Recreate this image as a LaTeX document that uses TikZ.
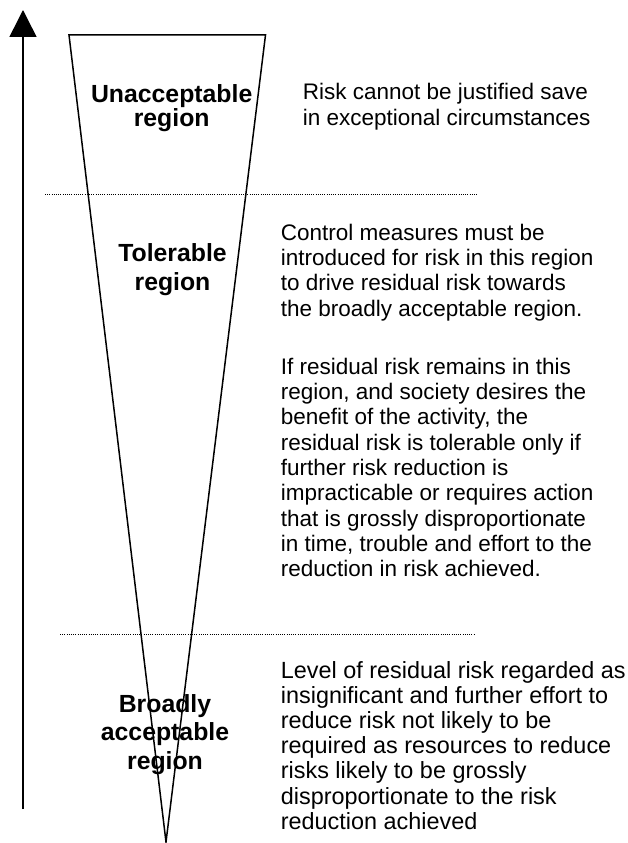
\documentclass[tikz,border=0pt]{standalone}
\usepackage{fontspec}
\setmainfont{Liberation Sans}
\usetikzlibrary{arrows.meta}
\begin{document}
\begin{tikzpicture}[x=1pt,y=-1pt,
  edge/.style={line width=1.5pt},
  divider/.style={line width=1pt, dash pattern=on 1pt off 1.2pt},
  region/.style={font=\bfseries\fontsize{24.8}{28.4}\selectfont, align=center, inner sep=0pt, anchor=base},
  note/.style={font=\fontsize{22.5}{25.3}\selectfont, align=left, inner sep=0pt, anchor=base west}]
\useasboundingbox (0,0) rectangle (627,843);

% risk funnel
\coordinate (tl) at (69,35);
\coordinate (tr) at (265.5,35);
\coordinate (apex) at (166,842);
\draw[edge, line join=miter] (tl) -- (tr) -- (apex) -- cycle;

% increasing-risk axis
\coordinate (ab) at (23,809);
\coordinate (at) at (23,10);
\draw[edge, -{Triangle[length=27pt,width=27pt]}] (ab) -- (at);

% region boundaries
\coordinate (d1a) at (45,194.5);
\coordinate (d1b) at (478,194.5);
\coordinate (d2a) at (60,634.7);
\coordinate (d2b) at (475,634.7);
\draw[divider] (d1a) -- (d1b);
\draw[divider] (d2a) -- (d2b);

% region names (anchored at the baseline of their last line)
\node[region, font=\bfseries\fontsize{24.8}{22.5}\selectfont] (unacc) at (171.7,126.5) {Unacceptable\\region};
\node[region] (toler) at (172.5,290) {Tolerable\\region};
\node[region] (broad) at (165,769) {Broadly\\acceptable\\region};

% descriptions (anchored at the baseline of their last line)
\node[note] (unaccnote) at (302.7,125) {Risk cannot be justified save\\in exceptional circumstances};
\node[note] (tolnote1) at (280.7,316) {Control measures must be\\introduced for risk in this region\\to drive residual risk towards\\the broadly acceptable region.};
\node[note] (tolnote2) at (280.7,576.7) {If residual risk remains in this\\region, and society desires the\\benefit of the activity, the\\residual risk is tolerable only if\\further risk reduction is\\impracticable or requires action\\that is grossly disproportionate\\in time, trouble and effort to the\\reduction in risk achieved.};
\node[note, font=\fontsize{23.4}{25.2}\selectfont] (broadnote) at (280.7,829.2) {Level of residual risk regarded as\\insignificant and further effort to\\reduce risk not likely to be\\required as resources to reduce\\risks likely to be grossly\\disproportionate to the risk\\reduction achieved};
\end{tikzpicture}
\end{document}
